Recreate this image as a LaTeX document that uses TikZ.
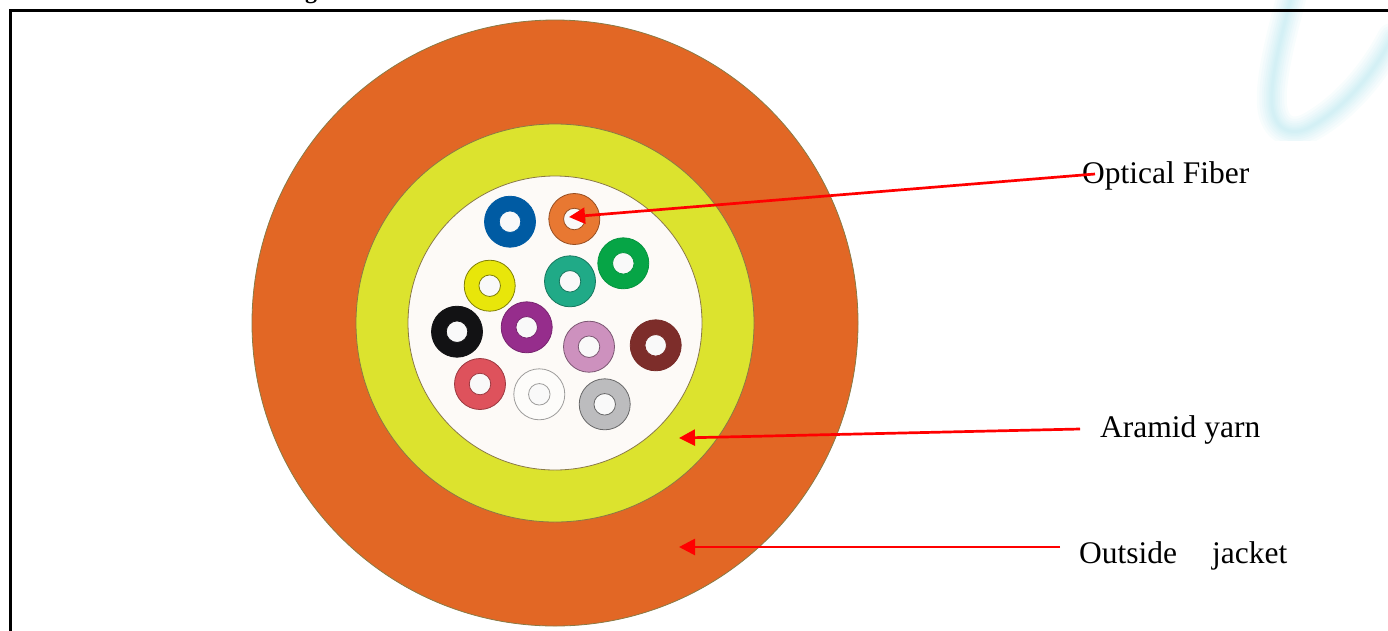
\documentclass[tikz,border=0pt]{standalone}
\usepackage{fontspec}
\setmainfont{Liberation Serif}
\usetikzlibrary{arrows.meta}
\definecolor{jacket}{HTML}{E26725}
\definecolor{yarn}{HTML}{DCE32E}
\definecolor{core}{HTML}{FDFAF7}
\definecolor{edge}{HTML}{8A7A45}
\definecolor{logoblue}{HTML}{9ADCE8}
\tikzset{
  disc/.style={circle,draw=edge,line width=0.8pt,inner sep=0pt,minimum size=#1},
  ring/.style={circle,draw=tmpedge,fill=#1,line width=0.8pt,inner sep=0pt,minimum size=51pt},
  hole/.style={circle,draw=tmpedge,fill=white!95!gray,line width=0.8pt,inner sep=0pt,minimum size=21.5pt},
  lbl/.style={font=\fontsize{31.5}{36}\selectfont,inner sep=0pt,anchor=base west},
  pointer/.style={-{Triangle[length=16pt,width=16pt]},red,line width=2.7pt},
  glow/.style={line cap=round,color=logoblue,opacity=0.065}
}
\begin{document}
\begin{tikzpicture}[x=1pt,y=-1pt]
\useasboundingbox (0,0) rectangle (1388,630);
% logo
\begin{scope}
\clip (1256,0) rectangle (1388,140);
\foreach \w in {30,25,20,16,12,9,6,3}{
  \draw[glow,line width=\w pt] (1292,-5) .. controls (1280,40) and (1270,80) .. (1272,105)
     .. controls (1274,130) and (1292,138) .. (1312,126)
     .. controls (1340,110) and (1370,80) .. (1392,38);
}
\end{scope}
% cut-off title line
\node[font=\fontsize{24}{28}\selectfont\bfseries,inner sep=0pt,anchor=base west] (title) at (305,-2) {g};
% frame
\draw[black,line width=2.4pt] (10.3,632) -- (10.3,10.3) -- (1390,10.3);
% cable
\node[disc=606pt,fill=jacket] (jacket) at (555,323) {};
\node[disc=398pt,fill=yarn] (yarn) at (555,323) {};
\node[disc=294pt,fill=core] (core) at (555,323) {};
% fibres: name/x/y/colour/share of own colour in the edge
\foreach \n/\x/\y/\c/\e in {
 blue/510/221.7/{0,91,163}/100,
 orange/574.3/219/{232,120,50}/65,
 green/623.3/263.3/{6,165,70}/90,
 teal/570/281.3/{32,170,135}/70,
 yellowf/489.7/285.7/{232,230,10}/55,
 black/457/331.7/{18,18,20}/100,
 purple/526.7/327.3/{150,45,140}/80,
 pink/589/346.7/{205,145,190}/60,
 brown/655.7/345.3/{125,45,42}/95,
 red/480/384/{222,82,92}/70,
 white/539.3/394.3/{253,252,250}/62,
 grey/604.7/404.3/{188,188,190}/55}{
  \definecolor{tmp}{RGB}{\c}
  \colorlet{tmpedge}{tmp!\e!black}
  \node[ring=tmp] (r\n) at (\x,\y) {};
  \node[hole=tmp] (h\n) at (\x,\y) {};
}
% labels
\node[lbl] (optical) at (1082,183) {Optical Fiber};
\node[lbl] (aramid) at (1100,437) {Aramid yarn};
\node[lbl] (outside) at (1079,563) {Outside\hspace{35pt}jacket};
% pointers
\coordinate (oS) at (1095,174);
\coordinate (oT) at (569,217);
\coordinate (aS) at (1080,429);
\coordinate (aT) at (679,438);
\coordinate (jS) at (1060,547);
\coordinate (jT) at (679,547);
\draw[pointer] (oS) -- (oT);
\draw[pointer] (aS) -- (aT);
\draw[pointer] (jS) -- (jT);
\end{tikzpicture}
\end{document}
